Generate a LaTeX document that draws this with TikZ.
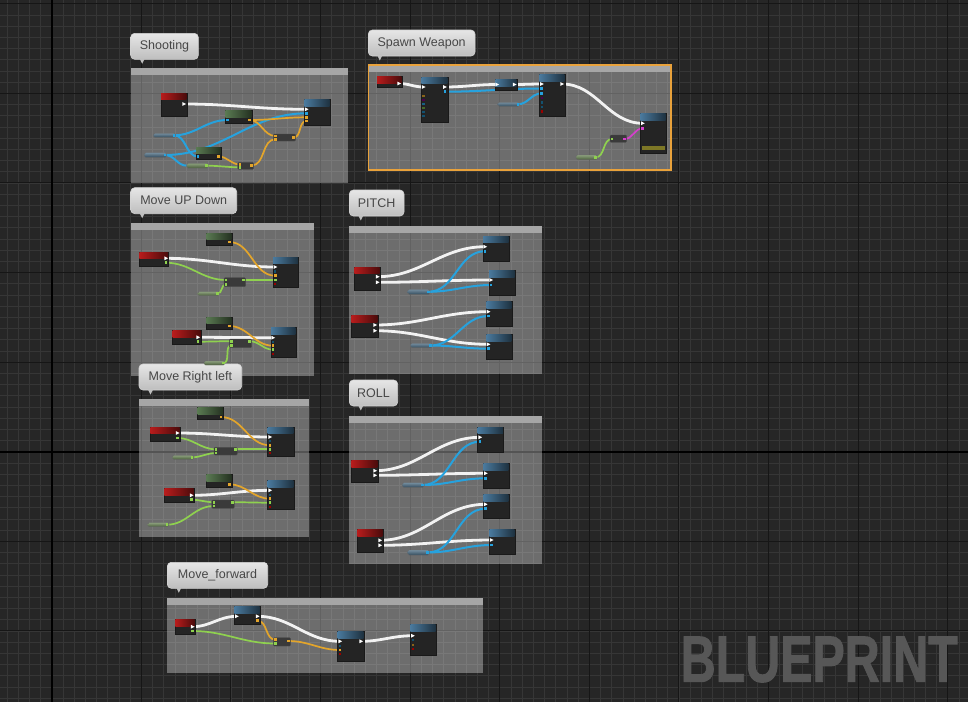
\documentclass[tikz,border=0pt]{standalone}
\usepackage{fontspec}
\setmainfont{Liberation Sans}
\newfontfamily\bpfont[FakeBold=1.6]{Liberation Sans Bold}
\usetikzlibrary{calc}
\pgfdeclarelayer{back}
\pgfdeclarelayer{wires}
\pgfsetlayers{back,wires,main}
\definecolor{bgc}{HTML}{262626}
\definecolor{finec}{HTML}{363636}
\definecolor{majc}{HTML}{161616}
\definecolor{hdrred}{HTML}{B81C1C}
\definecolor{hdrblue}{HTML}{4A7A9E}
\definecolor{hdrgreen}{HTML}{5A7A52}
\definecolor{bodyc}{HTML}{242424}
\definecolor{wwhite}{HTML}{F2F2F2}
\definecolor{wblue}{HTML}{26A2DE}
\definecolor{wyellow}{HTML}{E3A52B}
\definecolor{wgreen}{HTML}{8FD14F}
\definecolor{wmag}{HTML}{D43FCB}
\definecolor{varblue}{HTML}{46677E}
\definecolor{vargreen}{HTML}{647F50}
\definecolor{opc}{HTML}{3A3A3A}
\definecolor{cmthd}{HTML}{A6A6A6}
\definecolor{orangec}{HTML}{E9A23B}
\definecolor{bptext}{HTML}{575757}
\definecolor{bubtxt}{HTML}{474747}
\definecolor{bubtop}{HTML}{E6E6E6}
\definecolor{bubbot}{HTML}{BEBEBE}
\definecolor{bubedge}{HTML}{D4D4D4}
\tikzset{
 bpbody/.style={fill=bodyc, draw=black!90, line width=0.4pt, inner sep=0pt, outer sep=0pt},
 varbody/.style={rounded corners=1.5pt, inner sep=0pt, outer sep=0pt, draw=black!60, line width=0.3pt},
 opbody/.style={fill=opc, draw=black!70, rounded corners=1pt, inner sep=0pt, outer sep=0pt, line width=0.3pt},
 cmtbody/.style={fill=white, fill opacity=0.33, inner sep=0pt, outer sep=0pt},
 cmtbubble/.style={rounded corners=4pt, top color=bubtop, bottom color=bubbot, draw=bubedge, line width=0.6pt, minimum height=26pt, inner sep=0pt, outer sep=0pt, font=\fontsize{12.5}{14}\selectfont, text=bubtxt},
 ew/.style={draw=wwhite, line width=2.8pt},
 bw/.style={draw=wblue, line width=2pt},
 yw/.style={draw=wyellow, line width=1.7pt},
 gw/.style={draw=wgreen, line width=1.7pt},
 mw/.style={draw=wmag, line width=1.7pt},
}
\newcommand\BPnode[6]{%
 \node[bpbody, minimum width={(#4)-(#2)}, minimum height={(#5)-(#3)}, anchor=north west] (#1) at (#2,#3) {};
 \shade[left color=#6, right color=#6!40!black] ([shift={(0.3pt,-0.3pt)}]#1.north west) rectangle ([shift={(-0.3pt,-7pt)}]#1.north east);}
\newcommand\BPvar[6]{\node[varbody, top color=#6!75!white, bottom color=#6!75!black, minimum width={(#4)-(#2)}, minimum height={(#5)-(#3)}, anchor=north west] (#1) at (#2,#3) {};}
\newcommand\BPop[5]{\node[opbody, minimum width={(#4)-(#2)}, minimum height={(#5)-(#3)}, anchor=north west] (#1) at (#2,#3) {};}
\newcommand\BPcmt[5]{\node[cmtbody, minimum width={(#4)-(#2)}, minimum height={(#5)-(#3)}, anchor=north west] (#1) at (#2,#3) {};
 \fill[cmthd] (#1.north west) rectangle ([yshift=-7pt]#1.north east);}
\newcommand\BPbub[5]{\node[cmtbubble, minimum width=#4pt, anchor=north west] (#1) at (#2,#3) {#5};
 \fill[bubbot] ([xshift=9pt,yshift=0.5pt]#1.south west) -- ([xshift=14pt,yshift=0.5pt]#1.south west) -- ([xshift=11.5pt,yshift=-4.5pt]#1.south west) -- cycle;}
\newcommand\BPexec[3]{\coordinate (#1) at (#2,#3); \fill[white] (#1) +(-1.6,-1.9) -- +(2.1,0) -- +(-1.6,1.9) -- cycle;}
\newcommand\BPpin[4]{\coordinate (#1) at (#2,#3); \fill[#4] (#1) +(-1.3,-1.3) rectangle +(1.3,1.3);}
\newcommand\BPdim[3]{\fill[#3] (#1,#2) +(-1.1,-1.1) rectangle +(1.1,1.1);}
\newcommand\BPw[3]{\draw[#1] (#2) to[out=0,in=180] (#3);}
\begin{document}
\begin{tikzpicture}[x=1pt,y=-1pt]
\useasboundingbox (0,0) rectangle (968,702);
\begin{pgfonlayer}{back}
\fill[bgc] (0,0) rectangle (968,702);
\foreach \i in {-5,...,82} \draw[finec, line width=0.8pt] ({51.7+\i*11.2},0) -- ({51.7+\i*11.2},702);
\foreach \j in {-41,...,23} \draw[finec, line width=0.8pt] (0,{451.7+\j*11.2}) -- (968,{451.7+\j*11.2});
\foreach \i in {-1,...,10} \draw[majc, line width=1pt] ({51.7+\i*89.6},0) -- ({51.7+\i*89.6},702);
\foreach \j in {-6,...,3} \draw[majc, line width=1pt] (0,{451.7+\j*89.6}) -- (968,{451.7+\j*89.6});
\draw[black, line width=1.6pt] (51.7,0) -- (51.7,702);
\draw[black, line width=1.6pt] (0,451.7) -- (968,451.7);
\node[inner sep=0pt, outer sep=0pt, anchor=north west, text=bptext] (bpt) at (680.7,636.7) {\resizebox{277pt}{45pt}{\bpfont BLUEPRINT}};
\BPcmt{shC}{130.7}{68.3}{348.3}{183.3}
\BPcmt{swC}{368.3}{65}{671}{170}
\draw[orangec, line width=1.3pt] (swC.north west) rectangle (swC.south east);
\BPcmt{muC}{130.7}{222.7}{314.3}{375.7}
\BPcmt{ptC}{349}{225.7}{542.3}{374}
\BPcmt{rlC}{349}{415.7}{542.3}{564}
\BPcmt{mrC}{139}{399}{309}{536.7}
\BPcmt{mfC}{166.7}{597.7}{482.7}{673.3}
\end{pgfonlayer}
% bubbles
\BPbub{shT}{130.7}{33.3}{67.6}{Shooting}
\BPbub{swT}{368.3}{30}{106.7}{Spawn Weapon}
\BPbub{muT}{130.7}{187.7}{106}{Move UP Down}
\BPbub{ptT}{349.3}{190}{54.7}{PITCH}
\BPbub{rlT}{349.3}{380}{48.4}{ROLL}
\BPbub{mrT}{139}{364}{102.7}{Move Right left}
\BPbub{mfT}{167.3}{562.3}{100.4}{Move\_forward}
% ---------- Shooting
\BPnode{shR}{160.7}{92.7}{186.7}{115.7}{hdrred}
\BPexec{shRe}{184}{104}
\BPnode{shF}{304}{99}{330}{125}{hdrblue}
\BPexec{shFe}{306.5}{109.3}
\BPpin{shFb}{306.5}{113.3}{wblue}
\BPpin{shFy}{306.5}{117.3}{wyellow}
\BPpin{shFz}{306.5}{121}{wyellow}
\BPnode{shG1}{225}{110}{251.7}{122.7}{hdrgreen}
\BPpin{shG1i}{227.5}{120}{wblue}
\BPpin{shG1o}{249.3}{120}{wyellow}
\BPnode{shG2}{195.7}{146.7}{221}{159}{hdrgreen}
\BPpin{shG2i}{198}{156.5}{wblue}
\BPpin{shG2o}{218.5}{156.5}{wyellow}
\BPvar{shV1}{153.3}{133.3}{175.7}{137.3}{varblue}
\BPpin{shV1o}{174}{135.3}{wblue}
\BPvar{shV2}{144.3}{152.7}{166.7}{157.3}{varblue}
\BPpin{shV2o}{165}{155}{wblue}
\BPvar{shV3}{186.7}{163.3}{208.3}{168}{vargreen}
\BPpin{shV3o}{206.5}{165.7}{wgreen}
\BPop{shO1}{273.3}{134}{295.7}{141}
\BPpin{shO1a}{275.5}{136}{wyellow}
\BPpin{shO1b}{275.5}{139.2}{wyellow}
\BPpin{shO1o}{293.5}{137.5}{wyellow}
\BPop{shO2}{237.7}{162.3}{253.7}{169.3}
\BPpin{shO2a}{240}{164.5}{wyellow}
\BPpin{shO2b}{240}{167.3}{wgreen}
\BPpin{shO2o}{251.5}{165.5}{wyellow}
% ---------- Spawn Weapon
\BPnode{swR}{376.7}{76}{401.7}{86.7}{hdrred}
\BPexec{swRe}{399}{83.5}
\BPnode{swA}{421}{76.7}{447.7}{121.7}{hdrblue}
\BPexec{swAi}{423.5}{87}
\BPexec{swAo}{444.8}{87}
\BPpin{swAb}{444.8}{91.7}{wblue}
\BPdim{423.5}{96}{wyellow!60!black}
\BPdim{423.5}{100}{violet!60!black}
\BPdim{423.5}{104}{wblue!60!black}
\BPdim{423.5}{108}{wgreen!50!black}
\BPdim{423.5}{112}{wblue!50!black}
\BPdim{423.5}{116}{wblue!50!black}
\BPnode{swB}{495}{79.3}{516.7}{90}{hdrblue}
\BPexec{swBi}{497}{84.5}
\BPexec{swBo}{514.5}{84.5}
\BPvar{swV}{497.7}{102.3}{519.3}{106.3}{varblue}
\BPpin{swVo}{517.8}{104.3}{wblue}
\BPnode{swCn}{539}{74.3}{564.7}{115.7}{hdrblue}
\BPexec{swCi}{541.7}{84}
\BPexec{swCo}{562}{84}
\BPpin{swCb}{541.7}{88.5}{wblue}
\BPpin{swCc}{541.7}{93.3}{wblue}
\BPdim{541.7}{98}{violet!60!black}
\BPdim{541.7}{102.5}{wblue!50!black}
\BPdim{541.7}{107}{wblue!50!black}
\BPdim{541.7}{111.5}{red!60!black}
\BPnode{swD}{640}{113.3}{666}{153.3}{hdrblue}
\BPexec{swDi}{642.7}{123.3}
\BPpin{swDm}{642.7}{128.3}{wmag}
\fill[olive!80!yellow!70!black] (641.5,145.5) rectangle (664.5,150);
\BPop{swE}{610}{135}{626.7}{142.3}
\BPpin{swEi}{612}{139}{wgreen}
\BPpin{swEo}{624.5}{139}{wmag}
\BPvar{swF}{576}{155}{597.3}{159.7}{vargreen}
\BPpin{swFo}{595.5}{157.4}{wgreen}
% ---------- Move UP Down
\BPnode{muR1}{139}{251.7}{168.3}{265.7}{hdrred}
\BPexec{muR1e}{166}{258.3}
\BPpin{muR1g}{165.8}{262.7}{wgreen}
\BPnode{muG1}{206}{232.7}{231.7}{245}{hdrgreen}
\BPpin{muG1o}{229.2}{242}{wyellow}
\BPnode{muF1}{272.7}{256.7}{298.3}{286.7}{hdrblue}
\BPexec{muF1e}{275.3}{267}
\BPdim{275.3}{271.5}{wblue!50!black}
\BPpin{muF1y}{275.3}{275.7}{wyellow}
\BPpin{muF1g}{275.3}{280}{wgreen}
\BPdim{275.3}{284.2}{red!60!black}
\BPop{muO1}{224}{277.7}{245.7}{286.7}
\BPpin{muO1a}{226}{280}{wgreen}
\BPpin{muO1b}{226}{284.2}{wgreen}
\BPpin{muO1o}{243.5}{280}{wgreen}
\BPvar{muV1}{197.7}{291.7}{219.3}{295.7}{vargreen}
\BPpin{muV1o}{217.5}{293.7}{wgreen}
\BPnode{muG2}{206}{316.7}{231.7}{329}{hdrgreen}
\BPpin{muG2o}{229.2}{326}{wyellow}
\BPnode{muR2}{172.3}{330}{200.7}{344}{hdrred}
\BPexec{muR2e}{198}{337.3}
\BPpin{muR2g}{198}{341.7}{wgreen}
\BPnode{muF2}{270.7}{327.3}{295.7}{356.7}{hdrblue}
\BPexec{muF2e}{273}{337.7}
\BPdim{273}{341.7}{wblue!50!black}
\BPpin{muF2y}{273}{345.7}{wyellow}
\BPpin{muF2g}{273}{349.7}{wgreen}
\BPdim{273}{353.7}{red!60!black}
\BPop{muO2}{229.3}{339}{251.7}{347.7}
\BPpin{muO2a}{231.5}{341.2}{wgreen}
\BPpin{muO2b}{231.5}{345.3}{wgreen}
\BPpin{muO2o}{249.5}{341.2}{wgreen}
\BPvar{muV2}{204}{361}{225}{365}{vargreen}
\BPpin{muV2o}{223.3}{363}{wgreen}
% ---------- PITCH
\BPnode{ptR1}{354}{266.7}{380}{290}{hdrred}
\BPexec{ptR1a}{377.5}{276.7}
\BPexec{ptR1b}{377.5}{282.3}
\BPnode{ptR2}{351}{315}{377.7}{336.7}{hdrred}
\BPexec{ptR2a}{375}{325}
\BPexec{ptR2b}{375}{330.7}
\BPnode{ptF1}{482.7}{235.7}{509}{260.7}{hdrblue}
\BPexec{ptF1e}{485}{246.7}
\BPpin{ptF1b}{485}{251.2}{wblue}
\BPnode{ptF2}{488.7}{270}{515}{295}{hdrblue}
\BPexec{ptF2e}{491}{280}
\BPpin{ptF2b}{491}{285}{wblue}
\BPnode{ptF3}{486}{301}{511.7}{325.7}{hdrblue}
\BPexec{ptF3e}{488.3}{311.7}
\BPpin{ptF3b}{488.3}{316}{wblue}
\BPnode{ptF4}{486}{334}{511.7}{359}{hdrblue}
\BPexec{ptF4e}{488.3}{344.3}
\BPpin{ptF4b}{488.3}{348.7}{wblue}
\BPvar{ptV1}{407.7}{289.3}{430}{294.3}{varblue}
\BPpin{ptV1o}{428.2}{291.8}{wblue}
\BPvar{ptV2}{410.3}{343.3}{432.3}{347.7}{varblue}
\BPpin{ptV2o}{430.5}{345.5}{wblue}
% ---------- ROLL
\BPnode{rlR1}{351}{460}{377.7}{482.3}{hdrred}
\BPexec{rlR1a}{375}{470.7}
\BPexec{rlR1b}{375}{475.3}
\BPnode{rlR2}{357}{529.3}{382.7}{552.3}{hdrred}
\BPexec{rlR2a}{380}{540.3}
\BPexec{rlR2b}{380}{545.3}
\BPnode{rlF1}{477.3}{426.7}{503.3}{451.7}{hdrblue}
\BPexec{rlF1e}{480}{437.3}
\BPpin{rlF1b}{480}{441.7}{wblue}
\BPnode{rlF2}{483}{463}{508.7}{487.7}{hdrblue}
\BPexec{rlF2e}{485.7}{473.3}
\BPpin{rlF2b}{485.7}{478.3}{wblue}
\BPnode{rlF3}{483}{494}{508.7}{518.3}{hdrblue}
\BPexec{rlF3e}{485.5}{504.3}
\BPpin{rlF3b}{485.5}{508.7}{wblue}
\BPnode{rlF4}{489}{529.3}{514.7}{554.3}{hdrblue}
\BPexec{rlF4e}{491.5}{540}
\BPpin{rlF4b}{491.5}{545}{wblue}
\BPvar{rlV1}{402.3}{482.7}{424.3}{487.3}{varblue}
\BPpin{rlV1o}{422.5}{485}{wblue}
\BPvar{rlV2}{407.7}{550}{429.3}{555}{varblue}
\BPpin{rlV2o}{427.5}{552.5}{wblue}
% ---------- Move Right left
\BPnode{mrG1}{197.3}{407.3}{223.3}{419.3}{hdrgreen}
\BPpin{mrG1o}{221}{417}{wyellow}
\BPnode{mrR1}{150}{426.7}{180}{440.7}{hdrred}
\BPexec{mrR1e}{177.5}{433}
\BPpin{mrR1g}{177.5}{438}{wgreen}
\BPnode{mrF1}{267.3}{426.7}{293.7}{455.7}{hdrblue}
\BPexec{mrF1e}{270}{437}
\BPdim{270}{441.3}{wblue!50!black}
\BPpin{mrF1y}{270}{445.3}{wyellow}
\BPpin{mrF1g}{270}{449.3}{wgreen}
\BPdim{270}{453.3}{red!60!black}
\BPop{mrO1}{214}{447.3}{237.3}{455}
\BPpin{mrO1a}{216}{449.3}{wgreen}
\BPpin{mrO1b}{216}{453}{wgreen}
\BPpin{mrO1o}{235.2}{449.3}{wgreen}
\BPvar{mrV1}{172.3}{455.3}{194}{459.3}{vargreen}
\BPpin{mrV1o}{192}{457.3}{wgreen}
\BPnode{mrG2}{206}{474}{231.7}{486.7}{hdrgreen}
\BPpin{mrG2o}{229.2}{484.3}{wyellow}
\BPnode{mrR2}{164}{488}{194}{501.7}{hdrred}
\BPexec{mrR2e}{191.5}{495.3}
\BPpin{mrR2g}{191.5}{499.7}{wgreen}
\BPnode{mrF2}{267.3}{480}{293.7}{509.3}{hdrblue}
\BPexec{mrF2e}{270}{490.3}
\BPdim{270}{494.7}{wblue!50!black}
\BPpin{mrF2y}{270}{498.7}{wyellow}
\BPpin{mrF2g}{270}{502.7}{wgreen}
\BPdim{270}{506.7}{red!60!black}
\BPop{mrO2}{211.7}{500}{234.3}{508.3}
\BPpin{mrO2a}{213.8}{502.2}{wgreen}
\BPpin{mrO2b}{213.8}{506}{wgreen}
\BPpin{mrO2o}{232.2}{502.2}{wgreen}
\BPvar{mrV2}{147.7}{522.7}{169}{526.7}{vargreen}
\BPpin{mrV2o}{167}{524.7}{wgreen}
% ---------- Move_forward
\BPnode{mfR}{175}{619.3}{195}{634}{hdrred}
\BPexec{mfRe}{192.5}{626.7}
\BPpin{mfRg}{192.5}{631}{wgreen}
\BPnode{mfA}{234}{606}{260}{624}{hdrblue}
\BPexec{mfAi}{236.7}{616.3}
\BPexec{mfAo}{257.5}{616.3}
\BPpin{mfAy}{257.5}{620.7}{wyellow}
\BPop{mfO}{273.3}{637.7}{290.7}{646}
\BPpin{mfOa}{275.3}{639.7}{wyellow}
\BPpin{mfOb}{275.3}{643.5}{wgreen}
\BPpin{mfOo}{288.5}{641}{wyellow}
\BPnode{mfB}{337.3}{631}{363.7}{661}{hdrblue}
\BPexec{mfBi}{340}{641.3}
\BPexec{mfBo}{361}{641.3}
\BPdim{340}{645.7}{wblue!50!black}
\BPpin{mfBy}{340}{650}{wyellow}
\BPdim{340}{654.3}{red!60!black}
\BPnode{mfCn}{410}{624.3}{436}{655}{hdrblue}
\BPexec{mfCi}{412.7}{635.7}
\BPdim{412.7}{640.2}{wblue!50!black}
\BPdim{412.7}{644.7}{wyellow!60!black}
\BPdim{412.7}{649.2}{red!60!black}
% ---------- wires
\begin{pgfonlayer}{wires}
\BPw{ew}{shRe}{shFe}
\BPw{bw}{shV1o}{shG1i}
\BPw{bw}{shV1o}{shG2i}
\BPw{bw}{shV2o}{shFb}
\BPw{bw}{shV2o}{shV3.west}
\BPw{yw}{shG1o}{shFy}
\BPw{yw}{shG1o}{shO1a}
\BPw{yw}{shO1o}{shFz}
\BPw{yw}{shG2o}{shO2a}
\BPw{yw}{shO2o}{shO1b}
\BPw{gw}{shV3o}{shO2b}
\BPw{ew}{swRe}{swAi}
\BPw{ew}{swAo}{swBi}
\BPw{ew}{swBo}{swCi}
\BPw{ew}{swCo}{swDi}
\BPw{bw}{swAb}{swCb}
\BPw{bw}{swVo}{swCc}
\BPw{gw}{swFo}{swEi}
\BPw{mw}{swEo}{swDm}
\BPw{ew}{muR1e}{muF1e}
\BPw{gw}{muR1g}{muO1a}
\BPw{gw}{muV1o}{muO1b}
\BPw{gw}{muO1o}{muF1g}
\BPw{yw}{muG1o}{muF1y}
\BPw{ew}{muR2e}{muF2e}
\BPw{gw}{muR2g}{muO2a}
\BPw{gw}{muV2o}{muO2b}
\BPw{gw}{muO2o}{muF2g}
\BPw{yw}{muG2o}{muF2y}
\BPw{ew}{ptR1a}{ptF1e}
\BPw{ew}{ptR1b}{ptF2e}
\BPw{ew}{ptR2a}{ptF3e}
\BPw{ew}{ptR2b}{ptF4e}
\BPw{bw}{ptV1o}{ptF1b}
\BPw{bw}{ptV1o}{ptF2b}
\BPw{bw}{ptV2o}{ptF3b}
\BPw{bw}{ptV2o}{ptF4b}
\BPw{ew}{rlR1a}{rlF1e}
\BPw{ew}{rlR1b}{rlF2e}
\BPw{ew}{rlR2a}{rlF3e}
\BPw{ew}{rlR2b}{rlF4e}
\BPw{bw}{rlV1o}{rlF1b}
\BPw{bw}{rlV1o}{rlF2b}
\BPw{bw}{rlV2o}{rlF3b}
\BPw{bw}{rlV2o}{rlF4b}
\BPw{ew}{mrR1e}{mrF1e}
\BPw{gw}{mrR1g}{mrO1a}
\BPw{gw}{mrV1o}{mrO1b}
\BPw{gw}{mrO1o}{mrF1g}
\BPw{yw}{mrG1o}{mrF1y}
\BPw{ew}{mrR2e}{mrF2e}
\BPw{gw}{mrR2g}{mrO2a}
\BPw{gw}{mrV2o}{mrO2b}
\BPw{gw}{mrO2o}{mrF2g}
\BPw{yw}{mrG2o}{mrF2y}
\BPw{ew}{mfRe}{mfAi}
\BPw{ew}{mfAo}{mfBi}
\BPw{ew}{mfBo}{mfCi}
\BPw{yw}{mfAy}{mfOa}
\BPw{yw}{mfOo}{mfBy}
\BPw{gw}{mfRg}{mfOb}
\end{pgfonlayer}
\end{tikzpicture}
\end{document}
